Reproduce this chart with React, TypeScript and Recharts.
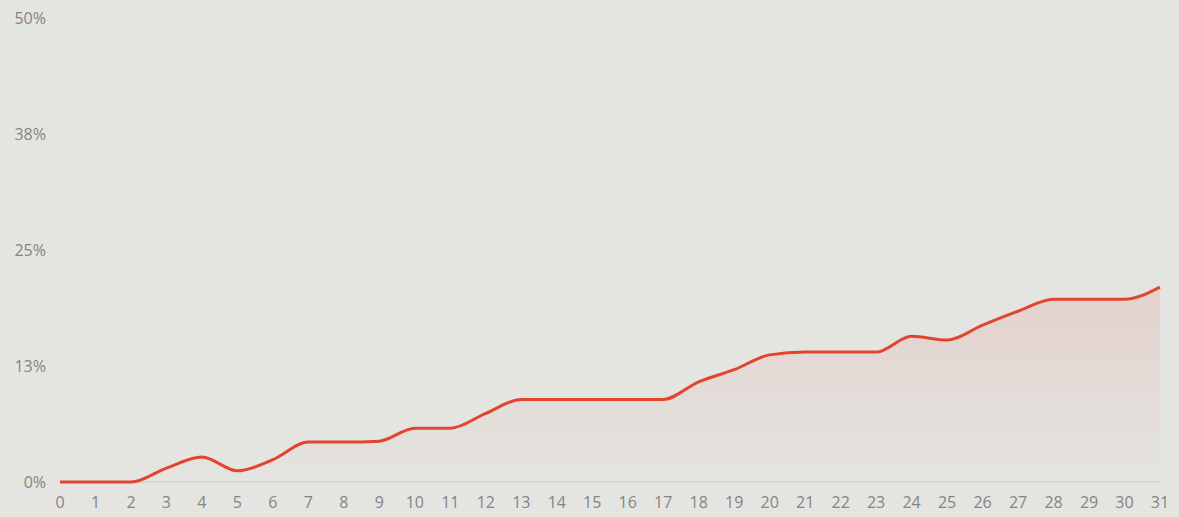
import React from "react";
import { AreaChart, Area, XAxis, YAxis, CartesianGrid } from "recharts";

const days = [0, 1, 2, 3, 4, 5, 6, 7, 8, 9, 10, 11, 12, 13, 14, 15, 16, 17, 18, 19, 20, 21, 22, 23, 24, 25, 26, 27, 28, 29, 30, 31];
const values = [0, 0, 0, 1.5, 2.7, 1.2, 2.4, 4.3, 4.3, 4.4, 5.8, 5.8, 7.4, 8.9, 8.9, 8.9, 8.9, 8.9, 10.8, 12.1, 13.7, 14.0, 14.0, 14.0, 15.7, 15.3, 16.9, 18.4, 19.7, 19.7, 19.7, 21.0];
const yTicks = [0, 12.5, 25, 37.5, 50];

const data = days.map((d, i) => ({ day: d, value: values[i] }));

const tickStyle = { fill: "#858583", fontSize: 16, fontFamily: "Open Sans" };

export default function App() {
  return (
    <div style={{ position: "absolute", left: 0, top: 0, width: 1179, height: 517, background: "#e4e4e0" }}>
      <AreaChart width={1179} height={517} data={data} margin={{ top: 18, right: 19, left: 0, bottom: 0 }}>
        <defs>
          <linearGradient id="fillRed" x1="0" y1="0" x2="0" y2="1">
            <stop offset="0%" stopColor="#e0483a" stopOpacity={0.2} />
            <stop offset="100%" stopColor="#e0483a" stopOpacity={0.0} />
          </linearGradient>
        </defs>
        <CartesianGrid
          vertical={false}
          horizontalValues={[0]}
          stroke="#d6d6d2"
          strokeWidth={2}
          strokeDasharray="0"
        />
        <XAxis
          dataKey="day"
          type="number"
          domain={[0, 31]}
          ticks={days}
          interval={0}
          height={35}
          tickLine={false}
          tickMargin={9}
          axisLine={false}
          tick={tickStyle}
        />
        <YAxis
          width={60}
          domain={[0, 50]}
          ticks={yTicks}
          interval={0}
          axisLine={false}
          tickLine={false}
          tickMargin={8}
          tick={tickStyle}
          tickFormatter={(v: number) => `${Math.round(v)}%`}
        />
        <Area
          type="monotone"
          dataKey="value"
          stroke="#e2452f"
          strokeWidth={3}
          fill="url(#fillRed)"
          isAnimationActive={false}
          dot={false}
          activeDot={false}
        />
      </AreaChart>
    </div>
  );
}
